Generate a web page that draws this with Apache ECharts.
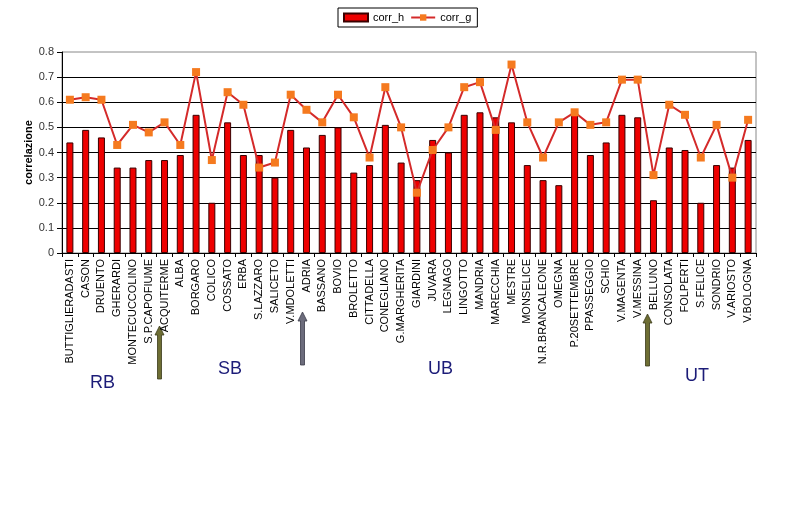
<!DOCTYPE html>
<html>
<head>
<meta charset="utf-8">
<script src="https://cdn.jsdelivr.net/npm/echarts@6/dist/echarts.min.js"></script>
<style>html,body{margin:0;padding:0;background:#fff;}#c{width:793px;height:515px;}</style>
</head>
<body>
<div id="c"></div>
<script>
const categories = ["BUTTIGLIERADASTI","CASON","DRUENTO","GHERARDI","MONTECUCCOLINO","S.P.CAPOFIUME","ACQUITERME","ALBA","BORGARO","COLICO","COSSATO","ERBA","S.LAZZARO","SALICETO","V.MDOLETTI","ADRIA","BASSANO","BOVIO","BROLETTO","CITTADELLA","CONEGLIANO","G.MARGHERITA","GIARDINI","JUVARA","LEGNAGO","LINGOTTO","MANDRIA","MARECCHIA","MESTRE","MONSELICE","N.R.BRANCALEONE","OMEGNA","P.20SETTEMBRE","PPASSEGGIO","SCHIO","V.MAGENTA","V.MESSINA","BELLUNO","CONSOLATA","FOLPERTI","S.FELICE","SONDRIO","V.ARIOSTO","V.BOLOGNA"];
const corr_h = [0.44,0.49,0.46,0.34,0.34,0.37,0.37,0.39,0.55,0.20,0.52,0.39,0.39,0.30,0.49,0.42,0.47,0.50,0.32,0.35,0.51,0.36,0.29,0.45,0.40,0.55,0.56,0.54,0.52,0.35,0.29,0.27,0.55,0.39,0.44,0.55,0.54,0.21,0.42,0.41,0.20,0.35,0.34,0.45];
const corr_g = [0.61,0.62,0.61,0.43,0.51,0.48,0.52,0.43,0.72,0.37,0.64,0.59,0.34,0.36,0.63,0.57,0.52,0.63,0.54,0.38,0.66,0.50,0.24,0.41,0.50,0.66,0.68,0.49,0.75,0.52,0.38,0.52,0.56,0.51,0.52,0.69,0.69,0.31,0.59,0.55,0.38,0.51,0.30,0.53];
const yTicks = [0,0.1,0.2,0.3,0.4,0.5,0.6,0.7,0.8];
const groupLabels = ["RB","SB","UB","UT"];

const FONT = "'Liberation Sans', Arial, sans-serif";
const chart = echarts.init(document.getElementById('c'));

function arrow(x, yTip, yBot, fill, stroke) {
  return {
    type: 'polygon',
    shape: { points: [[x, yTip],[x+4.5, yTip+9],[x+2, yTip+9],[x+2, yBot],[x-2, yBot],[x-2, yTip+9],[x-4.5, yTip+9]] },
    style: { fill: fill, stroke: stroke, lineWidth: 0.8 }
  };
}
function label(txt, x, y) {
  return { type: 'text', left: x, top: y, style: { text: txt, fill: '#1c1c78', font: '18px ' + FONT } };
}

chart.setOption({
  animation: false,
  backgroundColor: '#fff',
  textStyle: { fontFamily: FONT },
  legend: {
    left: 338, top: 8,
    borderColor: '#000', borderWidth: 1,
    padding: [4, 6, 4, 5],
    itemGap: 6,
    itemWidth: 24, itemHeight: 8,
    textStyle: { fontSize: 11, color: '#000', fontFamily: FONT },
    data: [{ name: 'corr_h', icon: 'rect' }, { name: 'corr_g' }]
  },
  grid: { left: 62, right: 37, top: 52, bottom: 262, show: true, borderColor: '#888', borderWidth: 1, backgroundColor: 'transparent' },
  xAxis: {
    type: 'category',
    data: categories,
    boundaryGap: true,
    axisLine: { lineStyle: { color: '#000', width: 1 } },
    axisTick: { show: true, alignWithLabel: false, length: 4, lineStyle: { color: '#000' } },
    axisLabel: { rotate: 90, interval: 0, fontSize: 11, color: '#000', fontFamily: FONT, margin: 6 }
  },
  yAxis: {
    type: 'value',
    min: 0, max: 0.8, interval: 0.1,
    name: 'correlazione',
    nameLocation: 'middle',
    nameRotate: 90,
    nameGap: 28,
    nameMoveOverlap: false,
    nameTextStyle: { fontSize: 11, fontWeight: 'bold', color: '#000', fontFamily: FONT },
    axisLine: { show: true, lineStyle: { color: '#000' } },
    axisTick: { show: true, length: 5, lineStyle: { color: '#000' } },
    axisLabel: { fontSize: 11, color: '#333', fontFamily: FONT, margin: 8,
      formatter: v => { const t = yTicks.find(k => Math.abs(k - v) < 1e-9); return t === 0 ? '0' : (t !== undefined ? t.toFixed(1) : ''); } },
    splitLine: { show: true, showMaxLine: false, lineStyle: { color: '#000', width: 1 } }
  },
  series: [
    {
      name: 'corr_h', type: 'bar', data: corr_h, barWidth: 7,
      itemStyle: { color: '#ee0000', borderColor: '#3a0000', borderWidth: 1 }
    },
    {
      name: 'corr_g', type: 'line', data: corr_g,
      symbol: 'rect', symbolSize: 8,
      lineStyle: { color: '#d42a2a', width: 2 },
      itemStyle: { color: '#f57a1f', borderWidth: 0 }
    }
  ],
  graphic: [
    arrow(159.5, 326, 379, '#6e6e34', '#3a3a1a'),
    arrow(302.5, 312, 365, '#6c6c7c', '#3a3a48'),
    arrow(647.5, 314, 366, '#6e6e34', '#3a3a1a'),
    label(groupLabels[0], 90, 374),
    label(groupLabels[1], 218, 360),
    label(groupLabels[2], 428, 360),
    label(groupLabels[3], 685, 367)
  ]
});
</script>
</body>
</html>
